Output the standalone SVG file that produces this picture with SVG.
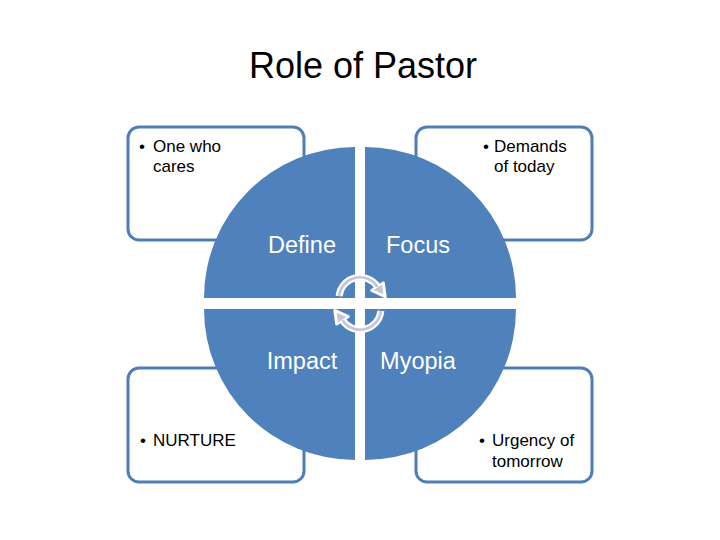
<svg xmlns="http://www.w3.org/2000/svg" width="720" height="540" viewBox="0 0 720 540">
<style>
.box{fill:#ffffff;stroke:#4f7db5;stroke-width:3}
.q{fill:#4f81bd}
.t{font-family:"Liberation Sans",Arial,sans-serif;font-size:17px;fill:#000000}
.ql{font-family:"Liberation Sans",Arial,sans-serif;font-size:23.5px;fill:#ffffff;text-anchor:middle}
.title{font-family:"Liberation Sans",Arial,sans-serif;font-size:36px;fill:#000000;text-anchor:middle}
.bandw{fill:none;stroke:#ffffff;stroke-width:7}
.bandg{fill:none;stroke:#c4c4da;stroke-width:2.6}
.headw{fill:#ffffff;stroke:#ffffff;stroke-width:3;stroke-linejoin:round}
.headg{fill:#c4c4da}
</style>
<defs>
<g id="arrow">
<path class="bandw" d="M339.1,296.2 A21,21 0 0 1 377.5,286.7"/>
<polygon class="headw" points="383.3,282.9 371.7,290.5 385.2,296.6"/>
<path class="bandg" d="M339.1,296.2 A21,21 0 0 1 377.5,286.7"/>
<polygon class="headg" points="382.0,284.6 373.8,290.0 383.3,294.2"/>
</g>
</defs>
<text class="title" x="363" y="78">Role of Pastor</text>
<g id="box-tl">
<rect class="box" x="128" y="127" width="176" height="113" rx="11"/>
<text class="t"><tspan x="142" y="152" text-anchor="middle">•</tspan><tspan x="153" y="152">One who</tspan><tspan x="153" y="172">cares</tspan></text>
</g>
<g id="box-tr">
<rect class="box" x="416" y="127" width="176" height="113" rx="11"/>
<text class="t"><tspan x="486" y="152" text-anchor="middle">•</tspan><tspan x="494" y="152">Demands</tspan><tspan x="494" y="172">of today</tspan></text>
</g>
<g id="box-bl">
<rect class="box" x="128" y="368" width="176" height="114" rx="11"/>
<text class="t"><tspan x="143" y="446" text-anchor="middle">•</tspan><tspan x="153" y="446">NURTURE</tspan></text>
</g>
<g id="box-br">
<rect class="box" x="416" y="368" width="176" height="114" rx="11"/>
<text class="t"><tspan x="482" y="446" text-anchor="middle">•</tspan><tspan x="492" y="446">Urgency of</tspan><tspan x="492" y="467">tomorrow</tspan></text>
</g>
<g id="q-define">
<path class="q" d="M355,298 L204,298 A151,151 0 0 1 355,147 Z"/>
<text class="ql" x="302" y="253">Define</text>
</g>
<g id="q-focus">
<path class="q" d="M365,298 L365,147 A151,151 0 0 1 516,298 Z"/>
<text class="ql" x="418" y="253">Focus</text>
</g>
<g id="q-impact">
<path class="q" d="M355,309 L355,460 A151,151 0 0 1 204,309 Z"/>
<text class="ql" x="302" y="369">Impact</text>
</g>
<g id="q-myopia">
<path class="q" d="M365,309 L516,309 A151,151 0 0 1 365,460 Z"/>
<text class="ql" x="418" y="369">Myopia</text>
</g>
<g id="connectors">
<use href="#arrow"/>
<use href="#arrow" transform="rotate(180 360 303.5)"/>
</g>
</svg>
